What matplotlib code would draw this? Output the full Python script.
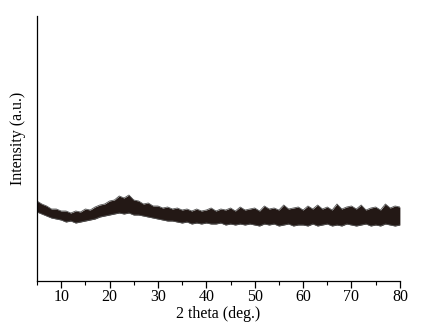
import numpy as np
import matplotlib.pyplot as plt

plt.rcParams['font.family'] = ['Liberation Serif', 'DejaVu Serif']

# 2 theta grid (deg) and envelope of the noisy trace
# (arbitrary intensity units)
two_theta = list(range(5, 81))
upper = [80, 77, 75, 72, 72, 70, 70, 68, 70, 69, 72, 71, 74, 76, 77, 80,
         81, 85, 83, 86, 81, 80, 77, 78, 75, 75, 73, 74, 72, 73, 71, 72,
         70, 72, 70, 71, 73, 70, 72, 71, 73, 70, 74, 71, 72, 73, 70, 75,
         72, 73, 71, 76, 72, 73, 74, 71, 75, 72, 76, 72, 74, 71, 77, 72,
         74, 75, 72, 76, 71, 73, 74, 71, 77, 73, 75, 74]
lower = [69, 67, 65, 63, 62, 61, 59, 60, 58, 59, 60, 61, 62, 64, 65, 66,
         67, 68, 67, 68, 66, 66, 65, 64, 63, 62, 61, 60, 60, 59, 58, 59,
         57, 58, 57, 58, 57, 57, 58, 56, 57, 56, 57, 56, 57, 56, 55, 57,
         56, 57, 55, 56, 57, 55, 56, 56, 55, 57, 55, 56, 57, 55, 56, 55,
         57, 56, 55, 56, 57, 55, 56, 55, 57, 56, 55, 56]

x = np.array(two_theta)
hi = np.array(upper)
lo = np.array(lower)

fig = plt.figure(figsize=(4.31, 3.24), dpi=100)
ax = fig.add_axes([0.0858, 0.1327, 0.8420, 0.8179])

col = '#231815'
ax.fill_between(x, lo, hi, color=col, lw=0)
ax.plot(x, hi, color='#555555', lw=0.6)
ax.plot(x, lo, color='#555555', lw=0.6)

ax.set_xlim(5, 80)
ax.set_ylim(0, 265)
ax.set_xticks(range(10, 81, 10))
ax.set_xticks(range(5, 81, 5), minor=True)
ax.set_yticks([])
ax.spines['top'].set_visible(False)
ax.spines['right'].set_visible(False)
for s in ['left', 'bottom']:
    ax.spines[s].set_linewidth(0.9)
ax.tick_params(axis='x', which='major', direction='out', length=5, width=0.9,
               labelsize=11.5, pad=1)
ax.tick_params(axis='x', which='minor', direction='out', length=3, width=0.8)

ax.set_xlabel('2 theta (deg.)', fontsize=11.5, labelpad=0.5)
ax.set_ylabel('Intensity (a.u.)', fontsize=11.5, labelpad=2)
ax.yaxis.set_label_coords(-0.03, 0.54)

fig.savefig('out.png', dpi=100)
